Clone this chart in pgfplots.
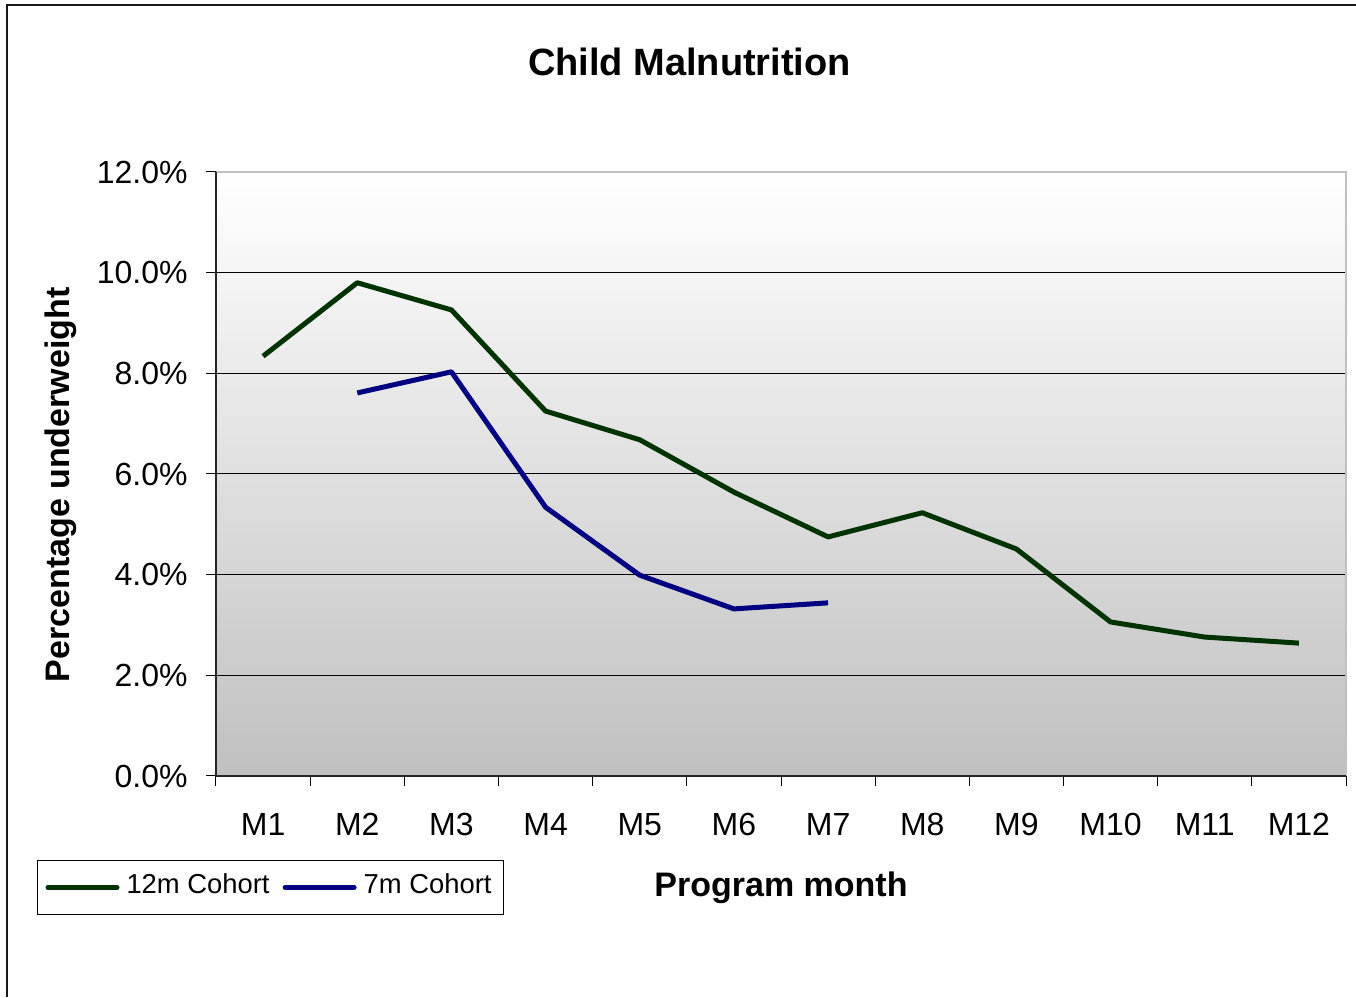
\documentclass[border=0pt]{standalone}
\usepackage{fontspec}
\setmainfont{Liberation Sans}
\usepackage{pgfplots}
\pgfplotsset{compat=1.18}
\definecolor{cgreen}{RGB}{0,51,0}
\definecolor{cnavy}{RGB}{0,0,128}
\definecolor{bgbot}{RGB}{192,192,192}
\definecolor{bordergray}{RGB}{192,192,192}
\begin{document}
\begin{tikzpicture}
\path[use as bounding box] (0,0) rectangle (678pt,498.5pt);
\draw[line width=1pt, black!90] (3.25pt,0) -- (3.25pt,496pt) -- (678pt,496pt);
\begin{axis}[
  at={(108pt,110.5pt)}, anchor=south west,
  scale only axis, width=565pt, height=302pt,
  xmin=0.5, xmax=12.5, ymin=0, ymax=12,
  axis line style={draw=none},
  axis background/.style={shade, top color=white, bottom color=bgbot},
  ytick={0,2,...,12},
  minor ytick={0,2,...,12},
  yticklabel={\pgfmathprintnumber[fixed,fixed zerofill,precision=1]{\tick}\%},
  /pgf/number format/assume math mode=true,
  ymajorgrids, major grid style={black, line width=0.5pt},
  xtick={1,...,12},
  xticklabels={M1,M2,M3,M4,M5,M6,M7,M8,M9,M10,M11,M12},
  minor xtick={0.5,1.5,...,12.5},
  xtick pos=bottom, ytick pos=left,
  tick align=outside,
  major tick length=0pt, minor tick length=5pt,
  tick style={black, line width=0.5pt},
  ticklabel style={font=\fontsize{16}{19}\selectfont},
  xticklabel style={inner sep=0pt, anchor=north, yshift=-18.5pt},
  yticklabel style={inner sep=0pt, anchor=east, xshift=-14pt},
  title={Child Malnutrition},
  title style={at={(axis description cs:0.419,1.14)}, anchor=base, font=\fontsize{19}{22}\selectfont\bfseries},
  xlabel={Program month},
  xlabel style={at={(axis description cs:0.5,-0.2003)}, anchor=base, font=\fontsize{17}{20}\selectfont\bfseries},
  ylabel={Percentage underweight},
  ylabel style={at={(axis description cs:-0.130,0.482)}, rotate=0, anchor=base, font=\fontsize{17}{20}\selectfont\bfseries},
  legend columns=2,
  legend style={at={(axis description cs:-0.1584,-0.139)}, anchor=north west,
    draw=black, line width=0.5pt, inner sep=2.5pt,
    font=\fontsize{13.7}{16}\selectfont,
    nodes={inner sep=3.5pt, text height=10.5pt, text depth=4.5pt},
    /tikz/every even column/.append style={column sep=1.5pt}},
  legend image code/.code={\path (-1.5pt,0pt); \draw[#1, line cap=round] (0pt,0pt) -- (34.5pt,0pt);},
  after end axis/.code={
    \draw[bordergray, line width=1pt] (rel axis cs:0,1) -- (rel axis cs:1,1) -- (rel axis cs:1,0);
    \draw[black!85, line width=0.7pt] (rel axis cs:1,0) -- (rel axis cs:0,0) -- (rel axis cs:0,1);
  },
]
\addplot[cgreen, line width=2.5pt, line join=round] coordinates {
  (1,8.34) (2,9.80) (3,9.26) (4,7.25) (5,6.68) (6,5.64)
  (7,4.75) (8,5.23) (9,4.51) (10,3.06) (11,2.76) (12,2.64)};
\addlegendentry{12m Cohort}
\addplot[cnavy, line width=2.5pt, line join=round] coordinates {
  (2,7.61) (3,8.03) (4,5.34) (5,3.99) (6,3.32) (7,3.44)};
\addlegendentry{7m Cohort}
\end{axis}
\end{tikzpicture}
\end{document}
